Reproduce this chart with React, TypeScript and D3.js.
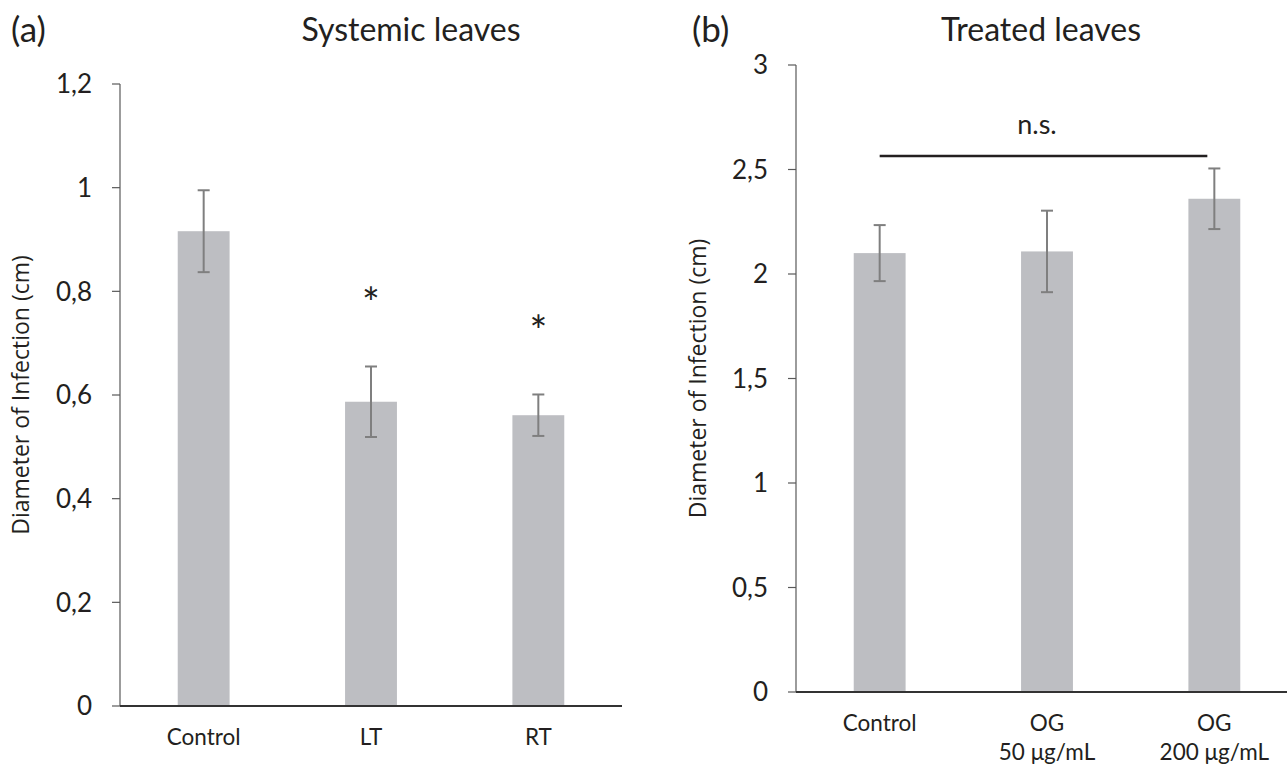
import React from "react";
import * as d3 from "d3";

const FONT = "Lato, 'Open Sans', sans-serif";

// panel (a) - systemic leaves
const catsA = ["Control", "LT", "RT"];
const meansA = [0.916, 0.587, 0.561];
const errsA = [0.079, 0.068, 0.04];
const starsA = [false, true, true];
const ticksA = [0, 0.2, 0.4, 0.6, 0.8, 1, 1.2];

// panel (b) - treated leaves
const catsB = [["Control"], ["OG", "50 μg/mL"], ["OG", "200 μg/mL"]];
const meansB = [2.1, 2.108, 2.36];
const errsB = [0.134, 0.195, 0.145];
const ticksB = [0, 0.5, 1, 1.5, 2, 2.5, 3];
const nsLevel = 2.565;

const comma = (v: number) => String(v).replace(".", ",");

type PanelProps = {
  letter: string;
  title: string;
  left: number;
  top: number;
  bottom: number;
  cats: string[][];
  means: number[];
  errs: number[];
  ticks: number[];
  stars?: boolean[];
  ns?: number;
  letterX: number;
  titleX: number;
  yTitleX: number;
};

function Panel(p: PanelProps) {
  const innerW = 502;
  const x = d3
    .scaleBand<number>()
    .domain(d3.range(p.cats.length))
    .range([p.left, p.left + innerW])
    .paddingInner(0.69)
    .paddingOuter(0.345);
  const y = d3
    .scaleLinear()
    .domain([0, p.ticks[p.ticks.length - 1]])
    .range([p.bottom, p.top]);
  const bw = x.bandwidth();
  const capW = 12;
  const mid = (i: number) => (x(i) as number) + bw / 2;

  return (
    <g fontFamily={FONT} fill="#231f20">
      <text x={p.letterX} y={42} fontSize={35}>
        {p.letter}
      </text>
      <text x={p.titleX} y={41} fontSize={32} textAnchor="middle">
        {p.title}
      </text>

      {/* bars */}
      {p.means.map((m, i) => (
        <rect
          key={"b" + i}
          x={x(i)}
          y={y(m)}
          width={bw}
          height={y(0) - y(m)}
          fill="#bdbec2"
        />
      ))}

      {/* error bars */}
      {p.means.map((m, i) => {
        const cx = mid(i);
        const hi = y(m + p.errs[i]);
        const lo = y(m - p.errs[i]);
        return (
          <g key={"e" + i} stroke="#7f7f7f" strokeWidth={2}>
            <line x1={cx} x2={cx} y1={hi} y2={lo} />
            <line x1={cx - capW / 2} x2={cx + capW / 2} y1={hi} y2={hi} />
            <line x1={cx - capW / 2} x2={cx + capW / 2} y1={lo} y2={lo} />
          </g>
        );
      })}

      {/* significance stars */}
      {p.stars &&
        p.stars.map((s, i) =>
          s ? (
            <text
              key={"s" + i}
              x={mid(i)}
              y={y(p.means[i] + p.errs[i]) - 48}
              fontSize={42}
              textAnchor="middle"
            >
              *
            </text>
          ) : null
        )}

      {/* n.s. bracket */}
      {p.ns !== undefined && (
        <g>
          <line
            x1={mid(0)}
            x2={mid(p.cats.length - 1) - 7}
            y1={y(p.ns)}
            y2={y(p.ns)}
            stroke="#231f20"
            strokeWidth={2.5}
          />
          <text
            x={(mid(0) + mid(p.cats.length - 1)) / 2 - 10}
            y={y(p.ns) - 22}
            fontSize={27}
            textAnchor="middle"
          >
            n.s.
          </text>
        </g>
      )}

      {/* y axis */}
      <line
        x1={p.left}
        x2={p.left}
        y1={p.top}
        y2={p.bottom}
        stroke="#595959"
        strokeWidth={1.2}
      />
      {p.ticks.map((t) => (
        <g key={"t" + t}>
          <line
            x1={p.left - 8}
            x2={p.left}
            y1={y(t)}
            y2={y(t)}
            stroke="#595959"
            strokeWidth={1.2}
          />
          <text
            x={p.left - 28}
            y={y(t)}
            dy="0.36em"
            fontSize={26}
            textAnchor="end"
          >
            {comma(t)}
          </text>
        </g>
      ))}
      <text
        transform={`translate(${p.yTitleX},${(p.top + p.bottom) / 2}) rotate(-90)`}
        fontSize={23}
        fontFamily="'Open Sans', sans-serif"
        textAnchor="middle"
      >
        Diameter of Infection (cm)
      </text>

      {/* x axis */}
      <line
        x1={p.left}
        x2={p.left + innerW}
        y1={p.bottom}
        y2={p.bottom}
        stroke="#333"
        strokeWidth={2}
      />
      {p.cats.map((c, i) => (
        <text
          key={"c" + i}
          x={mid(i)}
          y={p.bottom + 39}
          fontSize={22.5}
          textAnchor="middle"
        >
          {c.map((line, j) => (
            <tspan key={j} x={mid(i)} dy={j === 0 ? 0 : 29}>
              {line}
            </tspan>
          ))}
        </text>
      ))}
    </g>
  );
}

export default function App() {
  return (
    <div style={{ position: "absolute", left: 0, top: 0 }}>
      <svg width={1287} height={764} style={{ display: "block", background: "#fff" }}>
        <Panel
          letter="(a)"
          title="Systemic leaves"
          left={120}
          top={84}
          bottom={706}
          cats={catsA.map((c) => [c])}
          means={meansA}
          errs={errsA}
          ticks={ticksA}
          stars={starsA}
          letterX={11}
          titleX={411}
          yTitleX={29}
        />
        <Panel
          letter="(b)"
          title="Treated leaves"
          left={796}
          top={65}
          bottom={692}
          cats={catsB}
          means={meansB}
          errs={errsB}
          ticks={ticksB}
          ns={nsLevel}
          letterX={692}
          titleX={1041}
          yTitleX={706}
        />
      </svg>
    </div>
  );
}
